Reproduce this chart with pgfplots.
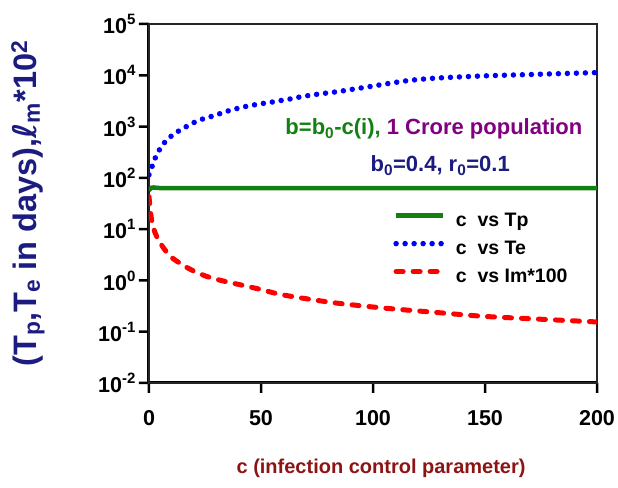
\documentclass[border=0pt]{standalone}
\usepackage{pgfplots}
\pgfplotsset{compat=1.18}
\usepackage{fontspec}
\setmainfont{Liberation Sans}
\newfontfamily\djv{DejaVu Sans}
\definecolor{tpgreen}{RGB}{20,128,20}
\definecolor{ylab}{RGB}{28,28,128}
\definecolor{xlab}{RGB}{140,20,20}
\definecolor{annpurple}{RGB}{128,0,128}
\newcommand{\sups}[1]{\raisebox{0.42em}{\fontsize{15}{15}\selectfont #1}}
\begin{document}
\begin{tikzpicture}
\path[use as bounding box] (-149pt,-104pt) rectangle (469pt,383pt);
% axis decoration drawn first: thick left/bottom axis lines and outward tick marks
\fill[black] (-1.5pt,-1.5pt) rectangle (1.5pt,359pt);
\fill[black] (-1.5pt,-1.5pt) rectangle (448pt,1.5pt);
\fill[black]
  (-10pt,-1.25pt) rectangle (0pt,1.25pt)
  (-10pt,50.04pt) rectangle (0pt,52.54pt)
  (-10pt,101.32pt) rectangle (0pt,103.82pt)
  (-10pt,152.61pt) rectangle (0pt,155.11pt)
  (-10pt,203.89pt) rectangle (0pt,206.39pt)
  (-10pt,255.18pt) rectangle (0pt,257.68pt)
  (-10pt,306.46pt) rectangle (0pt,308.96pt)
  (-10pt,357.75pt) rectangle (0pt,360.25pt)
  (-1.25pt,-10pt) rectangle (1.25pt,0pt)
  (110.75pt,-10pt) rectangle (113.25pt,0pt)
  (222.75pt,-10pt) rectangle (225.25pt,0pt)
  (334.75pt,-10pt) rectangle (337.25pt,0pt)
  (446.75pt,-10pt) rectangle (449.25pt,0pt);
\begin{axis}[
  at={(0pt,0pt)}, anchor=south west,
  scale only axis, width=448pt, height=359pt,
  ymode=log, xmin=0, xmax=200, ymin=1e-2, ymax=1e5,
  axis line style={line width=1.5pt, black!85},
  xtick={0,50,100,150,200}, xticklabels={0,50,100,150,200},
  ytick={1e-2,1e-1,1,10,100,1e3,1e4,1e5},
  yticklabels={10\sups{-2},10\sups{-1},10\sups{0},10\sups{1},10\sups{2},10\sups{3},10\sups{4},10\sups{5}},
  yminorticks=false,
  xtick pos=left, ytick pos=left,
  tick align=outside, major tick length=0pt,
  xticklabel style={font=\bfseries\fontsize{21.5}{24}\selectfont, yshift=-24pt},
  yticklabel style={font=\bfseries\fontsize{21.5}{24}\selectfont, xshift=-10pt},
  xlabel={c (infection control parameter)},
  xlabel style={at={(axis description cs:0.518,0)}, anchor=center, yshift=-85pt, font=\bfseries\fontsize{20}{24}\selectfont, text=xlab},
  ylabel={(T\textsubscript{p},T\textsubscript{e} in days),{\djv\bfseries\itshape ℓ}\textsubscript{m}*10\textsuperscript{2}},
  ylabel style={at={(axis description cs:0,0.5)}, anchor=center, rotate=0, yshift=121pt, font=\bfseries\fontsize{32.5}{36}\selectfont, text=ylab},
  legend cell align=left,
  legend style={draw=none, fill=none, at={(rel axis cs:0.545,0.479)}, anchor=north west,
    font=\bfseries\fontsize{19.5}{22}\selectfont, row sep=9pt, column sep=8pt, inner sep=0pt},
  legend image code/.code={\draw[#1] (0pt,5pt) -- (47pt,5pt);},
]
\addplot[tpgreen, line width=4.5pt] coordinates {
(0,57) (1,64) (2,65) (4,63.5) (8,63) (50,63) (100,63) (150,63) (200,63)};
\addlegendentry{c\ \ vs Tp}
\addplot[blue, line width=5.5pt, line cap=round, dash pattern=on 0pt off 9pt, smooth] coordinates {
(0,115) (1.6,178) (3.4,280) (6.4,460) (10.6,690) (14.7,890) (18.9,1130) (22.8,1350)
(26.9,1530) (30.9,1740) (35,2000) (38.8,2220) (42.9,2450) (47,2650) (51,2830)
(55.2,3020) (59.2,3240) (63.3,3470) (67.4,3780) (74.9,4260) (83.5,4750) (91.6,5390)
(99.9,6160) (107.6,7000) (115.8,7900) (124,8550) (132,9000) (150,9750) (175,10500) (200,11300)};
\addlegendentry{c\ \ vs Te}
\addplot[red, line width=5pt, line cap=round, dash pattern=on 7pt off 10pt, smooth] coordinates {
(0,43) (0.5,25) (1.2,15) (2.5,9) (4.2,6.2) (7,4) (10.1,2.8) (17.5,1.73) (25,1.23)
(32.5,0.99) (41.4,0.81) (50.3,0.66) (60,0.52) (82,0.37) (104.6,0.29) (127,0.24)
(149,0.20) (171.6,0.178) (200,0.155)};
\addlegendentry{c\ \ vs Im*100}
\node[anchor=base, font=\bfseries\fontsize{22}{26}\selectfont] at (rel axis cs:0.636,0.691)
  {\textcolor{tpgreen}{b=b\textsubscript{0}-c(i),} \textcolor{annpurple}{1 Crore population}};
\node[anchor=base, font=\bfseries\fontsize{22}{26}\selectfont, text=ylab] at (rel axis cs:0.65,0.588)
  {b\textsubscript{0}=0.4, r\textsubscript{0}=0.1};
\end{axis}
\end{tikzpicture}
\end{document}
